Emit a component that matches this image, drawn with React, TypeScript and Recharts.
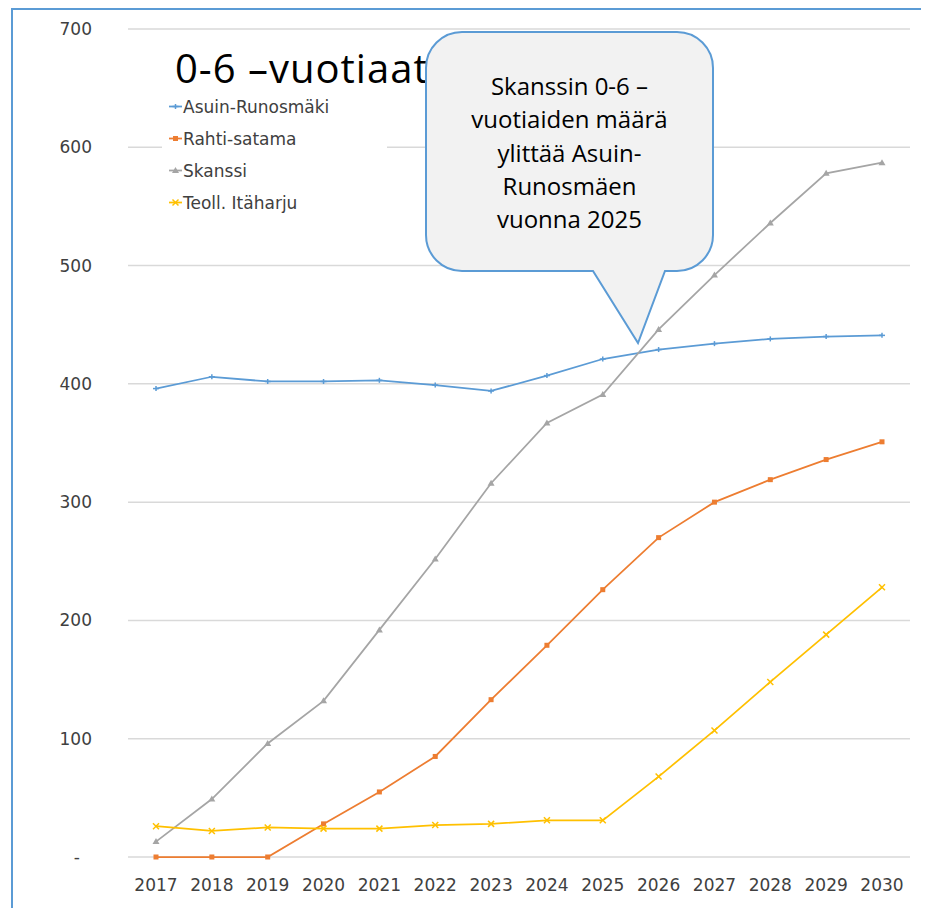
import { CartesianGrid, Line, LineChart, XAxis, YAxis } from "recharts"

const years = ["2017", "2018", "2019", "2020", "2021", "2022", "2023", "2024", "2025", "2026", "2027", "2028", "2029", "2030"]
const asuinRunosmaki = [396, 406, 402, 402, 403, 399, 394, 407, 421, 429, 434, 438, 440, 441]
const rahtiSatama = [0, 0, 0, 28, 55, 85, 133, 179, 226, 270, 300, 319, 336, 351]
const skanssi = [13, 49, 96, 132, 192, 252, 316, 367, 391, 446, 492, 536, 578, 587]
const teollItaharju = [26, 22, 25, 24, 24, 27, 28, 31, 31, 68, 107, 148, 188, 228]
const yTicks = [0, 100, 200, 300, 400, 500, 600, 700]

const title = "0-6 –vuotiaat"
const calloutLines = ["Skanssin 0-6 –", "vuotiaiden määrä", "ylittää Asuin-", "Runosmäen", "vuonna 2025"]

const series = [
  { key: "asuin", name: "Asuin-Runosmäki", values: asuinRunosmaki, color: "#5b9bd5", marker: "plus" },
  { key: "rahti", name: "Rahti-satama", values: rahtiSatama, color: "#ed7d31", marker: "dot" },
  { key: "skanssi", name: "Skanssi", values: skanssi, color: "#a5a5a5", marker: "triangle" },
  { key: "teoll", name: "Teoll. Itäharju", values: teollItaharju, color: "#ffc000", marker: "cross" },
]

const data = years.map((year, i) => {
  const row: Record<string, string | number> = { year }
  series.forEach((s) => {
    row[s.key] = s.values[i]
  })
  return row
})

const tickFont = "'DejaVu Sans', sans-serif"
const textFont = "'Open Sans', sans-serif"

function Marker({ cx, cy, kind, color }: { cx: number; cy: number; kind: string; color: string }) {
  if (kind === "plus") {
    return (
      <g stroke={color} strokeWidth={1.5}>
        <line x1={cx - 3} y1={cy} x2={cx + 3} y2={cy} />
        <line x1={cx} y1={cy - 2.5} x2={cx} y2={cy + 2.5} />
      </g>
    )
  }
  if (kind === "dot") {
    return <rect x={cx - 2.5} y={cy - 2.5} width={5} height={5} fill={color} />
  }
  if (kind === "triangle") {
    return <path d={`M${cx},${cy - 3.5} L${cx + 3.5},${cy + 2.5} L${cx - 3.5},${cy + 2.5} Z`} fill={color} />
  }
  return (
    <g stroke={color} strokeWidth={1.5}>
      <line x1={cx - 3} y1={cy - 3} x2={cx + 3} y2={cy + 3} />
      <line x1={cx - 3} y1={cy + 3} x2={cx + 3} y2={cy - 3} />
    </g>
  )
}

function YTick(props: any) {
  const { x, y, payload } = props
  const zero = payload.value === 0
  return (
    <text x={zero ? x - 12 : x} y={y} dy={6} textAnchor="end" fill="#404040" fontSize={17} fontFamily={tickFont}>
      {zero ? "-" : payload.value}
    </text>
  )
}

export default function App() {
  return (
    <div style={{ position: "relative", width: 913, height: 900 }}>
      <div
        style={{
          position: "absolute",
          left: 3,
          top: 0,
          width: 918,
          height: 900,
          borderTop: "2px solid #5b9bd5",
          borderLeft: "2px solid #5b9bd5",
          boxSizing: "border-box",
        }}
      />
      <LineChart width={913} height={900} data={data} margin={{ top: 21, right: 11, bottom: 21, left: 0 }}>
        <CartesianGrid vertical={false} stroke="#d9d9d9" strokeWidth={1.5} />
        <XAxis
          dataKey="year"
          axisLine={false}
          tickLine={false}
          tickSize={0}
          tickMargin={22}
          height={30}
          padding={{ left: 28, right: 28 }}
          interval={0}
          tick={{ fill: "#404040", fontSize: 17, fontFamily: tickFont }}
        />
        <YAxis
          domain={[0, 700]}
          ticks={yTicks}
          axisLine={false}
          tickLine={false}
          tickSize={0}
          tickMargin={36}
          width={120}
          tick={<YTick />}
        />
        {series.map((s) => (
          <Line
            key={s.key}
            dataKey={s.key}
            name={s.name}
            stroke={s.color}
            strokeWidth={1.75}
            isAnimationActive={false}
            dot={(p: any) => <Marker key={`${s.key}-${p.index}`} cx={p.cx} cy={p.cy} kind={s.marker} color={s.color} />}
            activeDot={false}
          />
        ))}
      </LineChart>
      <svg
        width={913}
        height={900}
        style={{ position: "absolute", left: 0, top: 0, pointerEvents: "none" }}
      >
        <text x={167} y={75} fontSize={40} letterSpacing={1} fontFamily={textFont} fill="#000">
          {title}
        </text>
        <rect x={154} y={84} width={225} height={125} fill="#fff" />
        {series.map((s, i) => {
          const cy = 98.5 + i * 32
          return (
            <g key={s.key}>
              <line x1={161} y1={cy} x2={174} y2={cy} stroke={s.color} strokeWidth={1.75} />
              <Marker cx={167.5} cy={cy} kind={s.marker} color={s.color} />
              <text x={175} y={cy} dy={6} fontSize={17} fontFamily={tickFont} fill="#404040">
                {s.name}
              </text>
            </g>
          )
        })}
        <path
          d="M454 24 H669 A36 36 0 0 1 705 60 V227 A36 36 0 0 1 669 263 H657 L630 335 L585 263 H454 A36 36 0 0 1 418 227 V60 A36 36 0 0 1 454 24 Z"
          fill="#f2f2f2"
          stroke="#5b9bd5"
          strokeWidth={2}
        />
        {calloutLines.map((line, i) => (
          <text key={i} x={561.5} y={87 + i * 33.3} textAnchor="middle" fontSize={24} fontFamily={textFont} fill="#000">
            {line}
          </text>
        ))}
      </svg>
    </div>
  )
}
